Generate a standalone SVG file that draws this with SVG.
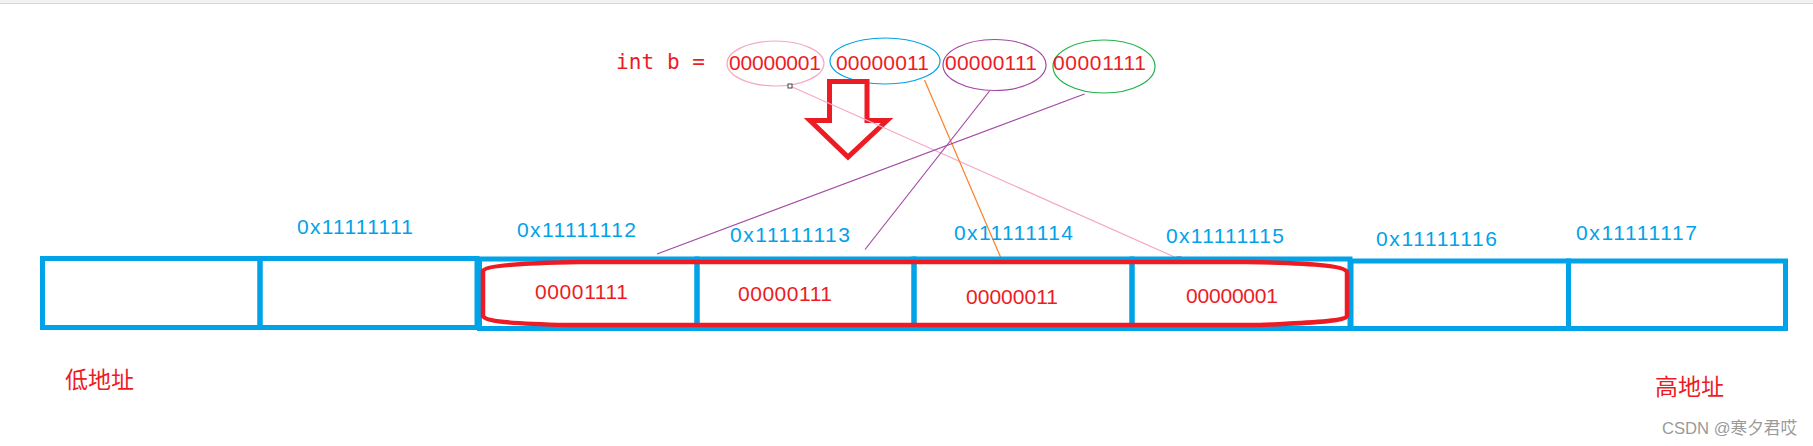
<svg xmlns="http://www.w3.org/2000/svg" width="1813" height="446" viewBox="0 0 1813 446">
<style>
.cell{fill:none;stroke:#00A2E8;stroke-width:5}
.addr{font-family:"Liberation Sans",Arial,sans-serif;font-size:21px;fill:#00A2E8}
.val{font-family:"Liberation Sans",Arial,sans-serif;font-size:21px;fill:#ED1C24}
.cjk{font-family:"Noto Sans CJK SC","Liberation Sans",sans-serif;font-size:23px;fill:#ED1C24}
.code{font-family:"DejaVu Sans Mono","Liberation Mono",monospace;font-size:21px;fill:#ED1C24}
.wm{font-family:"Liberation Sans","Noto Sans CJK SC",sans-serif;font-size:17px;fill:#9a9a9a}
.thin{fill:none;stroke-width:1.2}
.handle{fill:#fff;stroke:#444;stroke-width:1}
</style>
<rect x="0" y="0" width="1813" height="446" fill="#fff"/>
<rect x="0" y="0" width="1813" height="3" fill="#f1f2f4"/>
<line x1="0" y1="3.5" x2="1813" y2="3.5" stroke="#d6d6d6" stroke-width="1"/>

<g id="declaration">
<text class="code" x="616" y="69" textLength="89" lengthAdjust="spacing">int b =</text>
</g>
<g id="byte-top-1">
<ellipse cx="775.5" cy="63.5" rx="48.5" ry="22.5" class="thin" stroke="#F7A8C6"/>
<text class="val" x="729" y="70" textLength="92" lengthAdjust="spacing">00000001</text>
</g>
<g id="byte-top-2">
<ellipse cx="885" cy="61" rx="55" ry="23" class="thin" stroke="#00A2E8"/>
<text class="val" x="836" y="69.5" textLength="93" lengthAdjust="spacing">00000011</text>
</g>
<g id="byte-top-3">
<ellipse cx="994.5" cy="65" rx="51.5" ry="25.5" class="thin" stroke="#A349A4"/>
<text class="val" x="945" y="70" textLength="92" lengthAdjust="spacing">00000111</text>
</g>
<g id="byte-top-4">
<ellipse cx="1104" cy="66.5" rx="51" ry="26.5" class="thin" stroke="#22B14C"/>
<text class="val" x="1053" y="70" textLength="93" lengthAdjust="spacing">00001111</text>
</g>

<g id="down-arrow">
<polygon points="829.5,81.5 867,81.5 867,120.5 887,120.5 848,157 810,120.5 829.5,120.5" fill="none" stroke="#ED1C24" stroke-width="5" stroke-linejoin="miter"/>
</g>

<g id="connectors">
<line x1="790" y1="86" x2="1179" y2="259" class="thin" stroke="#F7A8C6"/>
<line x1="924.5" y1="80" x2="1000.5" y2="257" class="thin" stroke="#FF7F27"/>
<line x1="989.5" y1="91" x2="865" y2="249.5" class="thin" stroke="#A349A4"/>
<line x1="1084.5" y1="94" x2="657" y2="254" class="thin" stroke="#A349A4"/>
<rect x="788" y="84" width="4" height="4" class="handle"/>
<rect x="1177" y="257" width="4" height="4" class="handle"/>
</g>

<g id="cell-0x11111110">
<rect class="cell" x="42.5" y="258.5" width="217.5" height="69"/>
</g>
<g id="cell-0x11111111">
<rect class="cell" x="260" y="258.5" width="217" height="69"/>
<text class="addr" x="297" y="234" textLength="116" lengthAdjust="spacing">0x11111111</text>
</g>
<g id="cell-0x11111112">
<rect class="cell" x="479.5" y="259" width="217.5" height="69.5"/>
<text class="addr" x="517" y="237" textLength="119" lengthAdjust="spacing">0x11111112</text>
</g>
<g id="cell-0x11111113">
<rect class="cell" x="697" y="259" width="217" height="69.5"/>
<text class="addr" x="730" y="242" textLength="120" lengthAdjust="spacing">0x11111113</text>
</g>
<g id="cell-0x11111114">
<rect class="cell" x="914" y="259" width="218" height="69.5"/>
<text class="addr" x="954" y="240" textLength="119" lengthAdjust="spacing">0x11111114</text>
</g>
<g id="cell-0x11111115">
<rect class="cell" x="1132" y="259" width="218" height="69.5"/>
<text class="addr" x="1166" y="243" textLength="118" lengthAdjust="spacing">0x11111115</text>
</g>
<g id="cell-0x11111116">
<rect class="cell" x="1351" y="261" width="217.5" height="67.5"/>
<text class="addr" x="1376" y="246" textLength="121" lengthAdjust="spacing">0x11111116</text>
</g>
<g id="cell-0x11111117">
<rect class="cell" x="1568.5" y="261" width="217" height="67.5"/>
<text class="addr" x="1576" y="240" textLength="121" lengthAdjust="spacing">0x11111117</text>
</g>

<g id="int-b-bytes">
<path d="M 580,262 L 1247,262 C 1300,263 1345,265 1347,272 L 1347,316 C 1345,322 1300,323 1260,325 L 568,325 C 520,324 485,322 483,316 L 483,271 C 485,265 530,263 580,262 Z" fill="none" stroke="#ED1C24" stroke-width="4.5"/>
<text class="val" x="535" y="299" textLength="93" lengthAdjust="spacing">00001111</text>
<text class="val" x="738" y="301" textLength="94" lengthAdjust="spacing">00000111</text>
<text class="val" x="966" y="304" textLength="92" lengthAdjust="spacing">00000011</text>
<text class="val" x="1186" y="302.5" textLength="92" lengthAdjust="spacing">00000001</text>
</g>

<g id="low-address">
<text class="cjk" x="65" y="388">低地址</text>
</g>
<g id="high-address">
<text class="cjk" x="1655" y="395">高地址</text>
</g>
<text class="wm" x="1662" y="434" textLength="135" lengthAdjust="spacingAndGlyphs">CSDN @寒夕君哎</text>
</svg>
